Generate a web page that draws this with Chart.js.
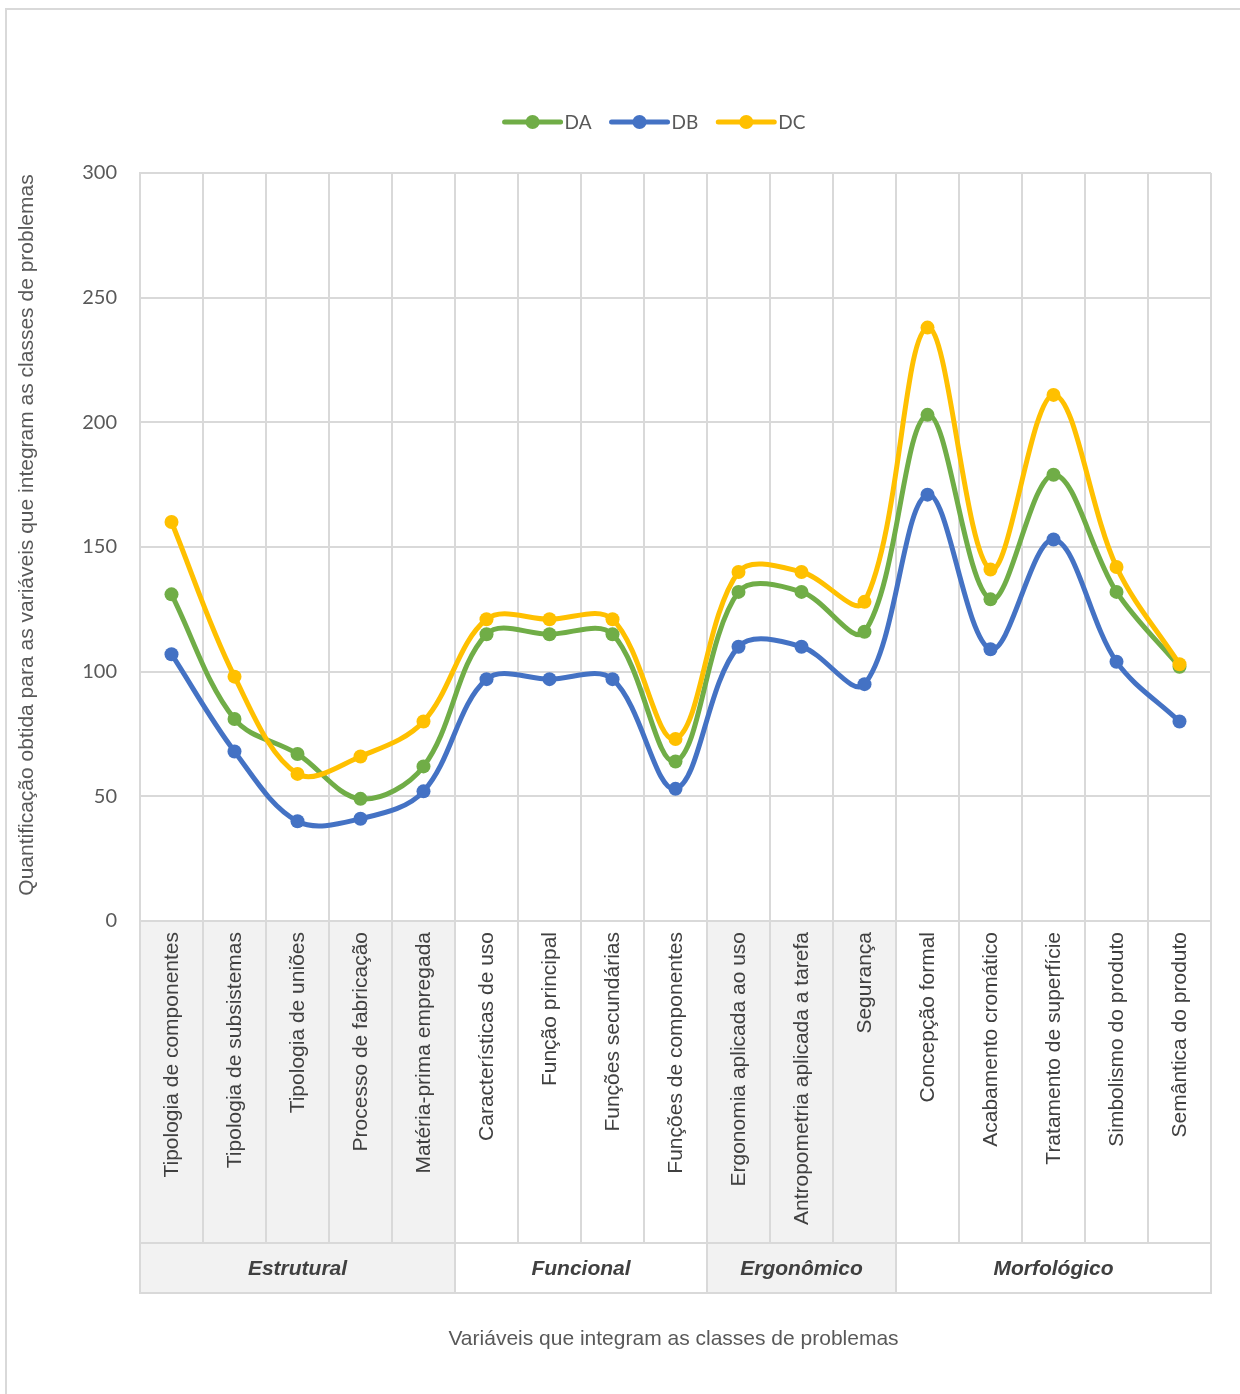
<!DOCTYPE html>
<html>
<head>
<meta charset="utf-8">
<script src="https://cdn.jsdelivr.net/npm/chart.js@4.4.1/dist/chart.umd.min.js"></script>
<style>
  html, body { margin: 0; padding: 0; background: #fff; }
  #wrap { width: 1240px; height: 1394px; position: relative; }
</style>
</head>
<body>
<div id="wrap"><canvas id="c" width="1240" height="1394"></canvas></div>
<script>
// Variables (first-level categories), in the order they appear on the axis
const categories = [
  'Tipologia de componentes', 'Tipologia de subsistemas', 'Tipologia de uniões',
  'Processo de fabricação', 'Matéria-prima empregada',
  'Características de uso', 'Função principal', 'Funções secundárias', 'Funções de componentes',
  'Ergonomia aplicada ao uso', 'Antropometria aplicada a tarefa', 'Segurança',
  'Concepção formal', 'Acabamento cromático', 'Tratamento de superfície',
  'Simbolismo do produto', 'Semântica do produto'
];

// Problem classes (second-level categories) and how many variables each spans
const groupNames = ['Estrutural', 'Funcional', 'Ergonômico', 'Morfológico'];
const groupSizes = [5, 4, 3, 5];
const groupShaded = [true, false, true, false];

// Series values
const seriesDA = [131, 81, 67, 49, 62, 115, 115, 115, 64, 132, 132, 116, 203, 129, 179, 132, 102];
const seriesDB = [107, 68, 40, 41, 52, 97, 97, 97, 53, 110, 110, 95, 171, 109, 153, 104, 80];
const seriesDC = [160, 98, 59, 66, 80, 121, 121, 121, 73, 140, 140, 128, 238, 141, 211, 142, 103];

const seriesNames = ['DA', 'DB', 'DC'];
const seriesColors = ['#70ad47', '#4472c4', '#ffc000'];

// Value axis
const yMin = 0, yMax = 300, yStep = 50;

const yTitle = 'Quantificação obtida para as variáveis que integram as classes de problemas';
const xTitle = 'Variáveis que integram as classes de problemas';

const GRID = '#d9d9d9';
const SHADE = '#f2f2f2';
const LABEL_FONT = '"Liberation Sans", Arial, sans-serif';
const NUM_FONT = 'Lato, "Open Sans", sans-serif';

const seriesData = [seriesDA, seriesDB, seriesDC];

// Draws the outer frame, the two-level category table, axis titles and the legend
const decorations = {
  id: 'decorations',
  beforeDraw(chart) {
    const ctx = chart.ctx;
    ctx.save();
    ctx.fillStyle = '#ffffff';
    ctx.fillRect(0, 0, chart.width, chart.height);
    ctx.strokeStyle = GRID;
    ctx.lineWidth = 2;
    ctx.strokeRect(6, 9, chart.width + 20, chart.height + 20);
    ctx.restore();
  },
  afterDraw(chart) {
    const ctx = chart.ctx;
    const area = chart.chartArea;
    const n = categories.length;
    const w = (area.right - area.left) / n;
    const top = area.bottom;
    const midY = top + 322;      // line between variable names and class names
    const botY = midY + 50;      // bottom of class row

    ctx.save();

    // shaded class blocks
    let start = 0;
    groupSizes.forEach((size, g) => {
      if (groupShaded[g]) {
        ctx.fillStyle = SHADE;
        ctx.fillRect(area.left + start * w, top + 1, size * w, botY - top - 1);
      }
      start += size;
    });

    // table lines
    ctx.strokeStyle = GRID;
    ctx.lineWidth = 2;
    const groupEdges = new Set([0]);
    let acc = 0;
    groupSizes.forEach(s => { acc += s; groupEdges.add(acc); });
    for (let k = 0; k <= n; k++) {
      const x = area.left + k * w;
      ctx.beginPath();
      ctx.moveTo(x, top);
      ctx.lineTo(x, groupEdges.has(k) ? botY : midY);
      ctx.stroke();
    }
    ctx.beginPath();
    ctx.moveTo(area.left, midY); ctx.lineTo(area.right, midY);
    ctx.moveTo(area.left - 1, botY); ctx.lineTo(area.right + 1, botY);
    ctx.stroke();

    // variable names, rotated
    ctx.fillStyle = '#404040';
    ctx.font = '21px ' + LABEL_FONT;
    ctx.textAlign = 'right';
    ctx.textBaseline = 'middle';
    categories.forEach((label, i) => {
      const x = chart.scales.x.getPixelForValue(i);
      ctx.save();
      ctx.translate(x + 1, top + 11);
      ctx.rotate(-Math.PI / 2);
      ctx.fillText(label, 0, 0);
      ctx.restore();
    });

    // class names
    ctx.font = 'italic bold 21px ' + LABEL_FONT;
    ctx.textAlign = 'center';
    start = 0;
    groupNames.forEach((name, g) => {
      const cx = area.left + (start + groupSizes[g] / 2) * w;
      ctx.fillText(name, cx, (midY + botY) / 2 + 1);
      start += groupSizes[g];
    });

    // axis titles
    ctx.fillStyle = '#595959';
    ctx.font = '21px ' + LABEL_FONT;
    ctx.fillText(xTitle, (area.left + area.right) / 2 - 2, 1339);
    ctx.save();
    ctx.translate(27, 535);
    ctx.rotate(-Math.PI / 2);
    ctx.fillText(yTitle, 0, 0);
    ctx.restore();

    // legend: line with marker, then the series name
    ctx.font = '19px ' + NUM_FONT;
    const lineLen = 56, gapText = 4, gapItem = 20;
    const widths = seriesNames.map(s => ctx.measureText(s).width);
    const total = widths.reduce((a, b) => a + b, 0) + seriesNames.length * (lineLen + gapText) + gapItem * (seriesNames.length - 1);
    let lx = 655 - total / 2;
    const ly = 122;
    seriesNames.forEach((name, i) => {
      ctx.strokeStyle = seriesColors[i];
      ctx.lineWidth = 5;
      ctx.lineCap = 'round';
      ctx.beginPath();
      ctx.moveTo(lx, ly); ctx.lineTo(lx + lineLen, ly);
      ctx.stroke();
      ctx.fillStyle = seriesColors[i];
      ctx.beginPath();
      ctx.arc(lx + lineLen / 2, ly, 7, 0, Math.PI * 2);
      ctx.fill();
      ctx.fillStyle = '#595959';
      ctx.textAlign = 'left';
      ctx.fillText(name, lx + lineLen + gapText, ly + 1);
      lx += lineLen + gapText + widths[i] + gapItem;
    });

    ctx.restore();
  }
};

new Chart(document.getElementById('c'), {
  type: 'line',
  data: {
    labels: categories,
    datasets: seriesNames.map((name, i) => ({
      label: name,
      data: seriesData[i],
      borderColor: seriesColors[i],
      backgroundColor: seriesColors[i],
      pointBackgroundColor: seriesColors[i],
      pointBorderWidth: 0,
      pointRadius: 7,
      borderWidth: 5,
      tension: 0.35,
      fill: false,
      order: seriesNames.length - i
    }))
  },
  options: {
    responsive: false,
    animation: false,
    events: [],
    layout: { padding: { left: 0, right: 29, top: 173, bottom: 0 } },
    plugins: { legend: { display: false }, tooltip: { enabled: false }, title: { display: false } },
    scales: {
      x: {
        type: 'category',
        offset: true,
        grid: { display: true, offset: true, color: GRID, lineWidth: 2, drawTicks: false },
        border: { display: true, color: GRID, width: 2 },
        ticks: { display: false },
        afterFit(scale) { scale.height = 1394 - 921; }
      },
      y: {
        min: yMin,
        max: yMax,
        grid: { color: GRID, lineWidth: 2, drawTicks: false },
        border: { display: true, color: GRID, width: 2 },
        ticks: {
          stepSize: yStep,
          padding: 23,
          color: '#595959',
          font: { family: NUM_FONT, size: 20 }
        },
        afterFit(scale) { scale.width = 140; }
      }
    }
  },
  plugins: [decorations]
});
</script>
</body>
</html>
